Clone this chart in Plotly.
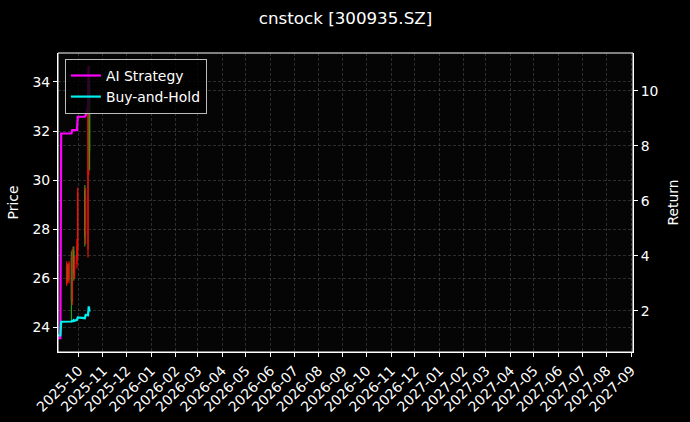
import plotly.graph_objects as go

# ---- data ----
line_dates = ["2025-09-05", "2025-09-08", "2025-09-09", "2025-09-10", "2025-09-11",
              "2025-09-12", "2025-09-15", "2025-09-16", "2025-09-17", "2025-09-18",
              "2025-09-19", "2025-09-22", "2025-09-23", "2025-09-24", "2025-09-25",
              "2025-09-26", "2025-09-29", "2025-09-30", "2025-10-09", "2025-10-10",
              "2025-10-13", "2025-10-14", "2025-10-15"]
ai_return = [1.0, 1.0, 8.45, 8.45, 8.45, 8.45, 8.45, 8.45, 8.45, 8.45,
             8.45, 8.45, 8.57, 8.57, 8.57, 8.57, 8.57, 9.06, 9.06, 9.10,
             9.41, 10.88, 10.85]
bh_return = [1.1, 1.1, 1.60, 1.60, 1.60, 1.61, 1.60, 1.61, 1.60, 1.61,
             1.60, 1.61, 1.63, 1.62, 1.66, 1.64, 1.67, 1.76, 1.73, 1.85,
             1.84, 2.16, 1.97]

candle_dates = ["2025-09-16", "2025-09-17", "2025-09-18", "2025-09-19", "2025-09-22",
                "2025-09-23", "2025-09-24", "2025-09-25", "2025-09-26", "2025-09-29",
                "2025-09-30", "2025-10-09", "2025-10-10", "2025-10-13", "2025-10-14",
                "2025-10-15"]
price_open = [25.9, 26.0, 26.4, 26.0, 26.8, 25.1, 26.6, 27.1, 26.3, 26.6, 27.2, 29.6, 27.8, 27.2, 31.0, 33.9]
price_high = [26.7, 26.6, 26.6, 26.7, 27.1, 27.2, 27.3, 27.3, 26.9, 27.6, 29.7, 29.8, 29.7, 34.63, 34.3, 34.1]
price_low = [25.7, 25.8, 25.9, 25.8, 24.2, 24.9, 26.4, 25.9, 26.0, 26.4, 26.8, 27.3, 27.4, 26.85, 30.2, 30.4]
price_close = [26.5, 26.4, 26.0, 26.6, 25.1, 26.9, 27.1, 26.2, 26.6, 27.3, 29.5, 27.7, 29.3, 33.0, 33.8, 31.2]

title_text = "cnstock [300935.SZ]"

FONT = "DejaVu Sans"
FS = 13.9
GRID = "rgba(140,140,140,0.30)"

fig = go.Figure()
fig.add_trace(go.Candlestick(
    x=candle_dates, open=price_open, high=price_high, low=price_low, close=price_close,
    increasing=dict(line=dict(color="#e8120c", width=1.2), fillcolor="#e8120c"),
    decreasing=dict(line=dict(color="#1f9e1f", width=1.2), fillcolor="#1f9e1f"),
    whiskerwidth=0, showlegend=False, yaxis="y", hoverinfo="skip",
))
fig.add_trace(go.Scatter(
    x=line_dates, y=ai_return, mode="lines", name="AI Strategy",
    line=dict(color="#ff00ff", width=2.2), yaxis="y2",
))
fig.add_trace(go.Scatter(
    x=line_dates, y=bh_return, mode="lines", name="Buy-and-Hold",
    line=dict(color="#00f0f0", width=2.2), yaxis="y2",
))

axis_common = dict(
    showline=True, linecolor="white", linewidth=1, mirror=False,
    ticks="outside", ticklen=4, tickcolor="white", tickwidth=1,
    tickfont=dict(family=FONT, size=FS, color="white"),
    showgrid=True, gridcolor=GRID, griddash="3px,2px", gridwidth=0.6,
    zeroline=False, automargin=False,
)

fig.update_layout(
    width=690, height=422,
    paper_bgcolor="black", plot_bgcolor="#050505",
    margin=dict(l=58, r=57, t=53, b=70),
    title=dict(text=title_text, x=0.5, xref="paper", y=1 - 18 / 422, yref="container",
               yanchor="middle", automargin=False,
               font=dict(family=FONT, size=16.7, color="white")),
    font=dict(family=FONT, color="white"),
    xaxis=dict(**axis_common, type="date", range=["2025-09-05", "2027-09-03 12:00"],
               dtick="M1", tick0="2025-10-01", tickformat="%Y-%m", tickangle=-45,
               rangeslider=dict(visible=False)),
    yaxis=dict(**axis_common, range=[23.0, 35.18], dtick=2, tick0=24,
               title=dict(text="Price", font=dict(family=FONT, size=FS, color="white"), standoff=10)),
    yaxis2=dict(**axis_common, overlaying="y", side="right", range=[0.50, 11.38],
                dtick=2, tick0=2,
                title=dict(text="Return", font=dict(family=FONT, size=FS, color="white"), standoff=10)),
    legend=dict(x=0.012, y=0.98, xanchor="left", yanchor="top",
                bgcolor="rgba(0,0,0,0.8)", bordercolor="#bbbbbb", borderwidth=1,
                tracegroupgap=0, itemwidth=30,
                font=dict(family=FONT, size=FS, color="white")),
    showlegend=True,
)
# top spine
fig.add_shape(type="rect", xref="paper", yref="paper", x0=0, x1=1, y0=0, y1=1,
              line=dict(color="white", width=1), layer="above")

fig.write_html("out.html", config={"displayModeBar": False},
               post_script="document.body.style.margin='0';document.body.style.background='black';")
